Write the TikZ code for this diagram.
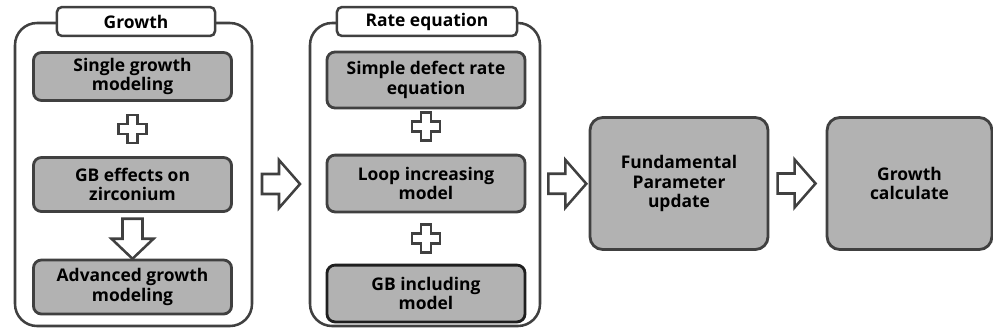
\documentclass[tikz,border=0pt]{standalone}
\usepackage{fontspec}
\setmainfont{Open Sans}
\usetikzlibrary{calc}

\tikzset{
	edgegray/.style={draw=black!75, line width=2pt},
	groupframe/.style={edgegray, line width=1.8pt, rounded corners=0.55cm, fill=white},
	grouptitle/.style={edgegray, line width=1.8pt, fill=white, rounded corners=0.12cm, minimum height=0.72cm, font=\bfseries\fontsize{12.4}{14}\selectfont},
	modelbox/.style={edgegray, fill=black!30, rounded corners=0.2cm, align=center, minimum width=4.95cm, font=\bfseries\fontsize{12.4}{14}\selectfont},
	bigbox/.style={edgegray, fill=black!30, rounded corners=0.32cm, align=center, minimum height=3.3cm, font=\bfseries\fontsize{12.4}{14}\selectfont},
	blockarrow/.style={edgegray, line width=1.8pt, fill=white, line join=miter},
}
% block shapes, drawn round a centre point
\newcommand\blockright[1]{\draw[blockarrow, shift={(#1)}] (-19,-10) -- (-2,-10) -- (-2,-24) -- (19,0) -- (-2,24) -- (-2,10) -- (-19,10) -- cycle;}
\newcommand\blockdown[1]{\draw[blockarrow, shift={(#1)}] (-10,-20) -- (10,-20) -- (10,0) -- (21,0) -- (0,20) -- (-21,0) -- (-10,0) -- cycle;}
\newcommand\plusmark[1]{\draw[blockarrow, shift={(#1)}] (-5,-14) -- (5,-14) -- (5,-5) -- (14,-5) -- (14,5) -- (5,5) -- (5,14) -- (-5,14) -- (-5,5) -- (-14,5) -- (-14,-5) -- (-5,-5) -- cycle;}

\begin{document}
\begin{tikzpicture}[x=0.025cm, y=-0.025cm]
		%%%%% START %%%%%
		\useasboundingbox (0,0) rectangle (993,331);
		
		% growth group
		\draw[groupframe] (15,23) rectangle (252,326);
		\node[grouptitle, minimum width=3.95cm] (growthtitle) at (136,21.5) {Growth};
		\node[modelbox, minimum height=1.2cm] (single) at (132.5,76.5) {Single growth\\modeling};
		\node[modelbox, minimum height=1.35cm] (gbeffect) at (132.5,184.5) {GB effects on\\zirconium};
		\node[modelbox, minimum height=1.35cm] (advanced) at (132.5,287) {Advanced growth\\modeling};
		
		\plusmark{$(single.south)!0.5!(gbeffect.north)$}
		\blockdown{$(gbeffect.south)!0.5!(advanced.north)+(0,3)$}
		
		% rate equation group
		\draw[groupframe] (310,23) rectangle (540,326);
		\node[grouptitle, minimum width=4.5cm] (ratetitle) at (427,21.5) {Rate equation};
		\node[modelbox, minimum height=1.4cm] (simple) at (426,80) {Simple defect rate\\equation};
		\node[modelbox, minimum height=1.42cm] (loop) at (426,183.5) {Loop increasing\\model};
		\node[modelbox, minimum height=1.42cm, draw=black!88] (gbmodel) at (426,293.5) {GB including\\model};
		
		\plusmark{$(simple.south)!0.5!(loop.north)-(0,5)$}
		\plusmark{$(loop.south)!0.5!(gbmodel.north)$}
		
		% last two steps
		\node[bigbox, minimum width=4.45cm] (param) at (679,183.5) {Fundamental\\Parameter\\update};
		\node[bigbox, minimum width=4.12cm] (calc) at (909.5,183.5) {Growth\\calculate};
		
		\coordinate (growthright) at (252,184);
		\coordinate (rateleft) at (310,184);
		\coordinate (rateright) at (540,184);
		\blockright{$(growthright)!0.5!(rateleft)$}
		\blockright{$(rateright)!0.5!(param.west)+(3,0)$}
		\blockright{$(param.east)!0.5!(calc.west)-(1,0)$}
		%%%%% END %%%%%
\end{tikzpicture}
\end{document}
